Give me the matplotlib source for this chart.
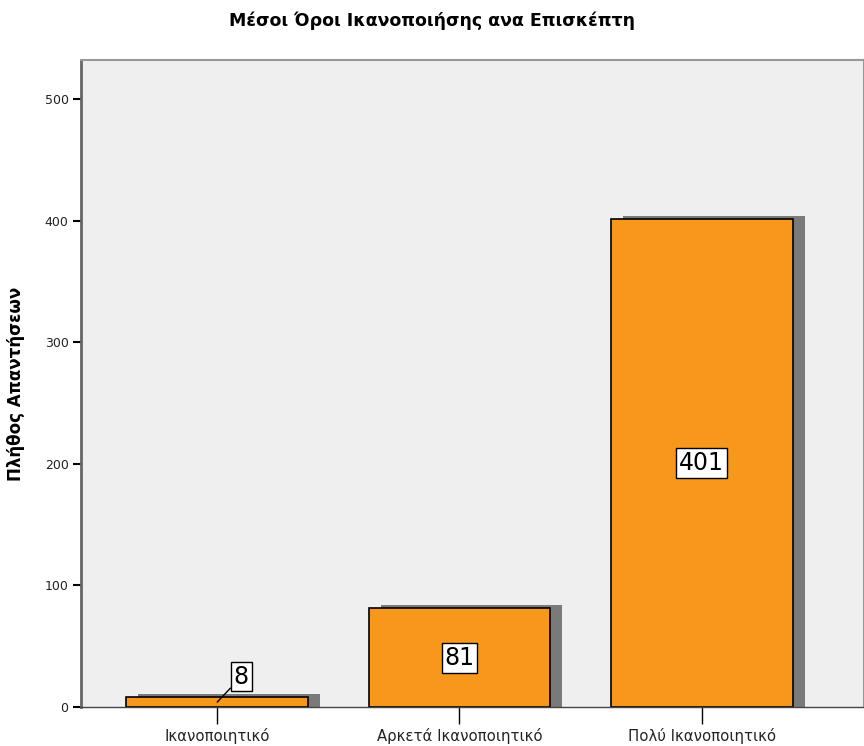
import numpy as np
import matplotlib.pyplot as plt

plt.rcParams['font.family'] = ['DejaVu Sans']

# satisfaction categories and response counts
categories = ["Ικανοποιητικό", "Αρκετά Ικανοποιητικό", "Πολύ Ικανοποιητικό"]
counts = [8, 81, 401]
y_ticks = [0, 100, 200, 300, 400, 500]

bar_color = "#f7981d"
shadow_color = "#7a7a7a"
bg_color = "#efefef"

fig = plt.figure(figsize=(8.64, 7.46), dpi=100)
ax = fig.add_axes([0.0938, 0.0523, 0.9062, 0.8673])
ax.set_facecolor(bg_color)

x = np.arange(len(categories))
width = 0.75

# drop shadow behind each bar (shifted right and slightly up)
ax.bar(x + 0.05, np.array(counts) + 2.5, width=width, color=shadow_color,
       zorder=1)
ax.bar(x, counts, width=width, color=bar_color, edgecolor="black",
       linewidth=1.2, zorder=2)

ax.set_xlim(-0.562, 2.67)
ax.set_ylim(0, 532)

# value labels in white boxes
box = dict(boxstyle="square,pad=0.12", facecolor="white", edgecolor="black", linewidth=1)
for xi, c in zip(x, counts):
    if c < 30:
        ax.annotate(str(c), xy=(xi, c / 2), xytext=(xi + 0.1, 25),
                    ha="center", va="center", fontsize=17, bbox=box, zorder=4,
                    arrowprops=dict(arrowstyle="-", color="black", lw=1,
                                    shrinkA=0, shrinkB=0))
    else:
        ax.text(xi, c / 2, str(c), ha="center", va="center", fontsize=17,
                bbox=box, zorder=4)

ax.set_xticks(x)
ax.set_xticklabels(categories, fontsize=10.7, color="#222222")
ax.set_yticks(y_ticks)
ax.set_yticklabels([str(t) for t in y_ticks], fontsize=9, color="#222222")
ax.tick_params(axis="x", length=12, width=1, pad=3)
ax.tick_params(axis="y", length=6, width=1.5, pad=3)

for side in ["top", "right"]:
    ax.spines[side].set_color("#999999")
    ax.spines[side].set_linewidth(1.5)
ax.spines["left"].set_color("#666666")
ax.spines["left"].set_linewidth(2)
ax.spines["bottom"].set_color("#444444")
ax.spines["bottom"].set_linewidth(1)

ax.set_ylabel("Πλήθος Απαντήσεων", fontsize=12, fontweight="bold", labelpad=14)
fig.suptitle("Μέσοι Όροι Ικανοποιήσης ανα Επισκέπτη", fontsize=12.5,
             fontweight="bold", y=0.985)

fig.savefig("out.png", dpi=100)
